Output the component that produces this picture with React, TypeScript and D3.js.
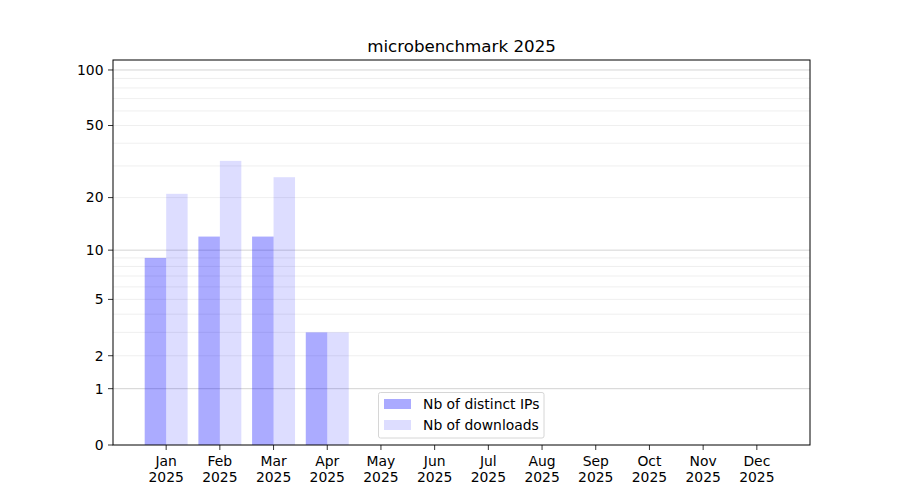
import React from "react";
import * as d3 from "d3";

const months = ["Jan", "Feb", "Mar", "Apr", "May", "Jun", "Jul", "Aug", "Sep", "Oct", "Nov", "Dec"];
const yearLabel = "2025";
const distinctIPs = [9, 12, 12, 3];
const downloads = [21, 32, 26, 3];
const yTicks = [0, 1, 2, 5, 10, 20, 50, 100];
const majorGrid = [1, 10, 100];
const minorGrid = [2, 3, 4, 5, 6, 7, 8, 9, 20, 30, 40, 50, 60, 70, 80, 90];
const seriesNames = ["Nb of distinct IPs", "Nb of downloads"];
const title = "microbenchmark 2025";

const W = 900, H = 500;
const L = 113, R = 810, T = 60, B = 445;
const FONT = "DejaVu Sans, sans-serif";
const FS = 13.9;

export default function App() {
  const x = d3.scaleLinear().domain([-0.99, 11.99]).range([L, R]);
  const y = d3.scaleSymlog().constant(1).domain([0, 113.2]).range([B, T]);
  const bw = (x(1) - x(0)) * 0.4;
  const ipColor = "rgb(170,170,255)";
  const dlColor = "rgb(221,221,255)";

  return (
    <svg width={W} height={H} style={{ position: "absolute", left: 0, top: 0, fontFamily: FONT }}>
      <rect x={0} y={0} width={W} height={H} fill="white" />
      {minorGrid.map((v) => (
        <line key={"mi" + v} x1={L} x2={R} y1={y(v)} y2={y(v)} stroke="#ebebeb" strokeWidth={0.8} />
      ))}
      {majorGrid.map((v) => (
        <line key={"ma" + v} x1={L} x2={R} y1={y(v)} y2={y(v)} stroke="#c8c8c8" strokeWidth={0.8} />
      ))}
      {distinctIPs.map((v, i) => (
        <rect key={"ip" + i} x={x(i) - bw} y={y(v)} width={bw} height={B - y(v)} fill="blue" fillOpacity={0.33} />
      ))}
      {downloads.map((v, i) => (
        <rect key={"dl" + i} x={x(i)} y={y(v)} width={bw} height={B - y(v)} fill="blue" fillOpacity={0.135} />
      ))}
      <rect x={L} y={T} width={R - L} height={B - T} fill="none" stroke="black" strokeWidth={1} />
      {yTicks.map((v) => (
        <g key={"yt" + v} transform={`translate(${L},${y(v)})`}>
          <line x1={-5} x2={0} stroke="black" strokeWidth={0.8} />
          <text x={-9.5} dy="0.35em" textAnchor="end" fontSize={FS} fill="black">{v}</text>
        </g>
      ))}
      {months.map((m, i) => (
        <g key={"xt" + m} transform={`translate(${x(i)},${B})`}>
          <line y1={0} y2={5} stroke="black" strokeWidth={0.8} />
          <text y={21} textAnchor="middle" fontSize={FS} fill="black">{m}</text>
          <text y={37} textAnchor="middle" fontSize={FS} fill="black">{yearLabel}</text>
        </g>
      ))}
      <text x={(L + R) / 2} y={52} textAnchor="middle" fontSize={16.7} fill="black">{title}</text>
      <g>
        <rect x={378.5} y={392.5} width={165.5} height={45.5} rx={2} fill="white" fillOpacity={0.8} stroke="#d6d6d6" strokeWidth={1} />
        <rect x={384} y={399} width={27} height={10} fill={ipColor} />
        <text x={423} y={409} fontSize={FS} fill="black">{seriesNames[0]}</text>
        <rect x={384} y={420} width={27} height={10} fill={dlColor} />
        <text x={423} y={430} fontSize={FS} fill="black">{seriesNames[1]}</text>
      </g>
    </svg>
  );
}
